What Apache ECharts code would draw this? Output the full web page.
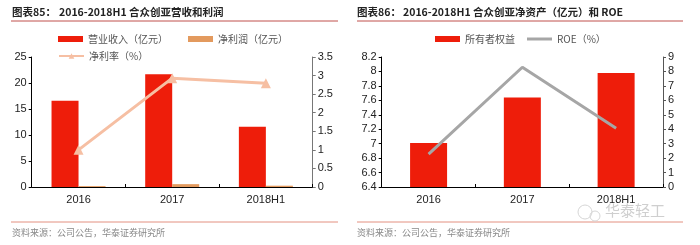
<!DOCTYPE html>
<html><head><meta charset="utf-8">
<script src="https://cdn.jsdelivr.net/npm/echarts@6/dist/echarts.min.js"></script>
<style>html,body{margin:0;padding:0;background:#fff}#c{width:700px;height:245px}</style>
</head><body><div id="c"></div>
<script>
const categories = ['2016', '2017', '2018H1'];
const revenue = [16.6, 21.7, 11.6];
const netProfit = [0.17, 0.55, 0.25];
const netMargin = [1.0, 2.93, 2.79];
const equity = [7.01, 7.64, 7.98];
const roe = [2.28, 8.29, 4.06];
const leftTicks = { min: 0, max: 25, interval: 5 };
const rightTicks = { min: 0, max: 3.5, interval: 0.5 };
const eqTicks = { min: 6.4, max: 8.2, interval: 0.2 };
const roeTicks = { min: 0, max: 9, interval: 1 };

const FONT = '"Noto Sans CJK SC", "Liberation Sans", sans-serif';
const RED = '#EE1D0A', ORANGE = '#E39A5E', PEACH = '#F6BFA3', GRAY = '#A6A6A6';
const lbl = { color: '#222', fontSize: 11, fontFamily: 'Liberation Sans, Arial, sans-serif' };

function yAx(gi, t, pos, fmt, lineColor) {
  return {
    type: 'value', gridIndex: gi, position: pos, min: t.min, max: t.max, interval: t.interval,
    splitLine: { show: false },
    axisLine: { show: true, lineStyle: { color: lineColor, width: 1 } },
    axisTick: { show: true, length: 3, lineStyle: { color: lineColor } },
    axisLabel: Object.assign({ margin: 5, formatter: fmt }, lbl)
  };
}
function xAx(gi) {
  return {
    type: 'category', gridIndex: gi, data: categories,
    axisLine: { show: true, lineStyle: { color: '#000', width: 1 } },
    axisTick: { show: true, inside: true, length: 3, lineStyle: { color: '#000' } },
    axisLabel: Object.assign({ margin: 7 }, lbl)
  };
}
function fmtNum(v) { return String(Math.round(v * 10) / 10); }

function leg(name, left, top, icon, h) {
  const o = {
    data: [{ name: name }], left: left, top: top, itemWidth: 25, itemHeight: h || 7, itemGap: 0,
    textStyle: { color: '#555', fontSize: 10, fontFamily: FONT }, padding: 0
  };
  if (icon) o.data[0].icon = icon;
  return o;
}

const titleStyle = { fontSize: 10.5, fontWeight: 'bold', fontFamily: FONT, fill: '#222' };

const chart = echarts.init(document.getElementById('c'), null, { renderer: 'canvas' });
chart.setOption({
  animation: false,
  grid: [
    { left: 31.7, right: 387.3, top: 57, bottom: 58 },
    { left: 381.7, right: 37, top: 57, bottom: 58 }
  ],
  xAxis: [xAx(0), xAx(1)],
  yAxis: [
    yAx(0, leftTicks, 'left', fmtNum, '#000'),
    yAx(0, rightTicks, 'right', fmtNum, '#777'),
    yAx(1, eqTicks, 'left', fmtNum, '#000'),
    yAx(1, roeTicks, 'right', fmtNum, '#555')
  ],
  legend: [
    leg('营业收入（亿元）', 58, 34, 'rect', 6),
    leg('净利润（亿元）', 188, 34, 'rect', 6),
    leg('净利率（%）', 58, 51),
    leg('所有者权益', 435, 34, 'rect', 6),
    leg('ROE（%）', 527, 34, 'rect', 3)
  ],
  series: [
    { name: '营业收入（亿元）', type: 'bar', xAxisIndex: 0, yAxisIndex: 0, data: revenue, barWidth: 27, barGap: '0%', itemStyle: { color: RED } },
    { name: '净利润（亿元）', type: 'bar', xAxisIndex: 0, yAxisIndex: 0, data: netProfit, barWidth: 27, barGap: '0%', itemStyle: { color: ORANGE } },
    { name: '净利率（%）', type: 'line', xAxisIndex: 0, yAxisIndex: 1, data: netMargin, symbol: 'triangle', symbolSize: 10,
      lineStyle: { color: PEACH, width: 3 }, itemStyle: { color: PEACH } },
    { name: '所有者权益', type: 'bar', xAxisIndex: 1, yAxisIndex: 2, data: equity, barWidth: 37, itemStyle: { color: RED } },
    { name: 'ROE（%）', type: 'line', xAxisIndex: 1, yAxisIndex: 3, data: roe, symbol: 'none',
      lineStyle: { color: GRAY, width: 3 }, itemStyle: { color: GRAY } }
  ],
  graphic: [
    { type: 'text', left: 12, top: 7, style: Object.assign({ text: '图表85：' }, titleStyle) },
    { type: 'text', left: 59, top: 7, style: Object.assign({ text: '2016-2018H1 合众创亚营收和利润' }, titleStyle) },
    { type: 'text', left: 357, top: 7, style: Object.assign({ text: '图表86：' }, titleStyle) },
    { type: 'text', left: 403, top: 7, style: Object.assign({ text: '2016-2018H1 合众创亚净资产（亿元）和 ROE' }, titleStyle) },
    { type: 'line', shape: { x1: 11, y1: 21, x2: 338, y2: 21 }, style: { stroke: '#C0504D', lineWidth: 1 } },
    { type: 'line', shape: { x1: 357, y1: 21, x2: 683, y2: 21 }, style: { stroke: '#C0504D', lineWidth: 1 } },
    { type: 'line', shape: { x1: 11, y1: 222, x2: 338, y2: 222 }, style: { stroke: '#E39080', lineWidth: 1 } },
    { type: 'line', shape: { x1: 357, y1: 222, x2: 683, y2: 222 }, style: { stroke: '#E39080', lineWidth: 1 } },
    { type: 'text', left: 12, top: 228, style: { text: '资料来源：公司公告，华泰证券研究所', fontSize: 9, fontFamily: FONT, fill: '#888' } },
    { type: 'text', left: 357, top: 228, style: { text: '资料来源：公司公告，华泰证券研究所', fontSize: 9, fontFamily: FONT, fill: '#888' } },
    { type: 'text', left: 605, top: 203, style: { text: '华泰轻工', fontSize: 15, fontFamily: FONT, fill: '#CFCFCF' } },
    { type: 'circle', shape: { cx: 585, cy: 212, r: 7 }, style: { fill: 'none', stroke: '#D5D5D5', lineWidth: 1 } },
    { type: 'circle', shape: { cx: 595, cy: 216, r: 5 }, style: { fill: 'none', stroke: '#D5D5D5', lineWidth: 1 } }
  ]
});
</script></body></html>
